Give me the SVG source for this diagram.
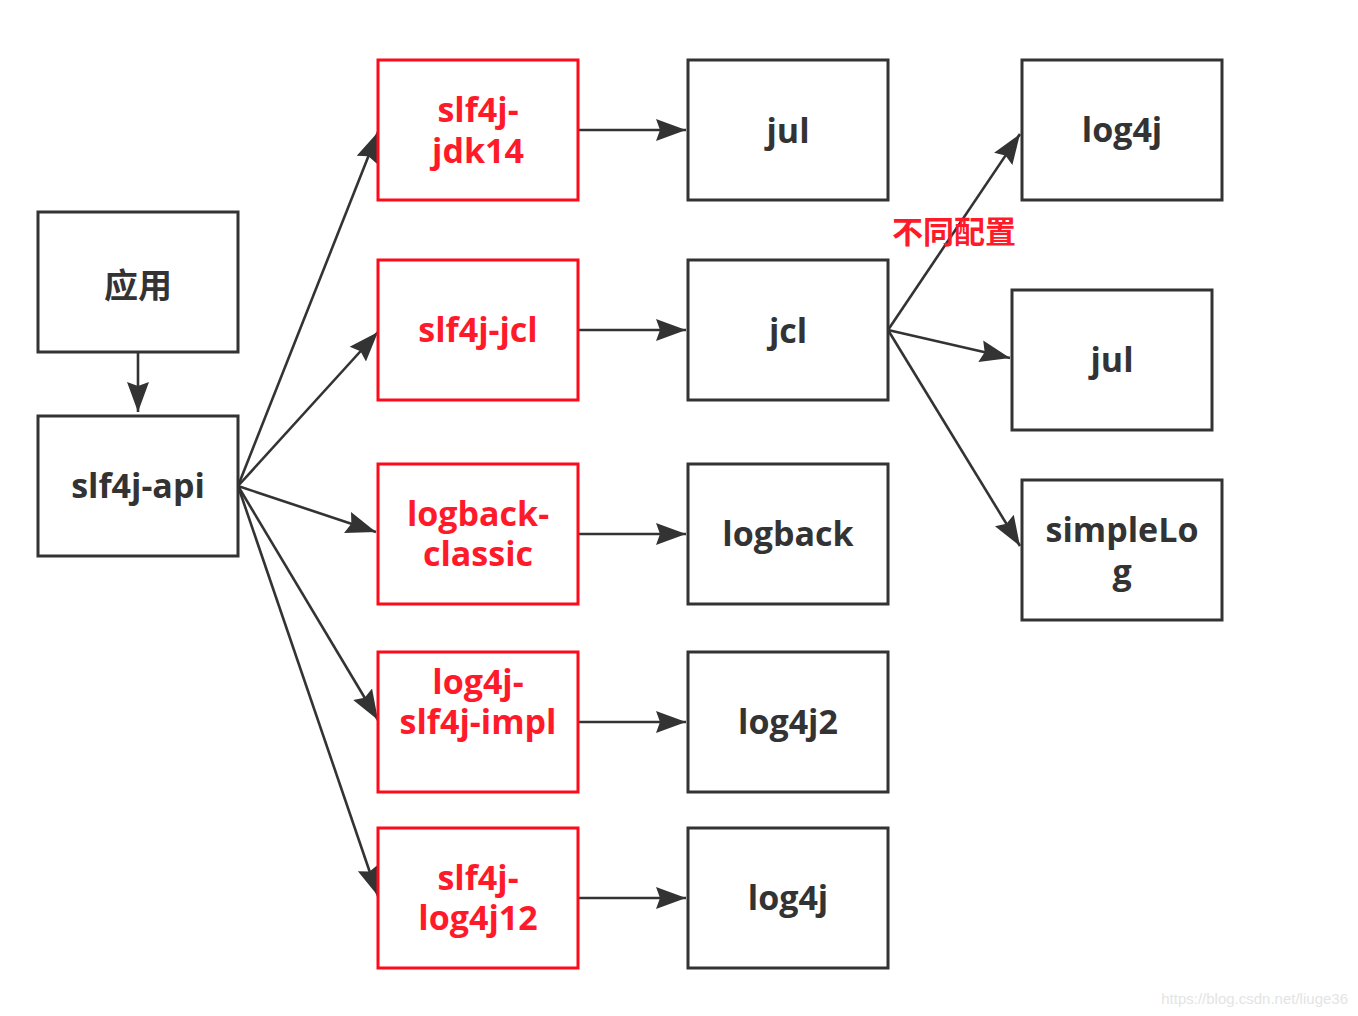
<svg xmlns="http://www.w3.org/2000/svg" width="1358" height="1016" viewBox="0 0 1358 1016">
<style>
.box{fill:#fff;stroke:#333;stroke-width:3}
.red{fill:#fff;stroke:#ff0a1a;stroke-width:3}
.t{font-family:"Open Sans","Noto Sans CJK SC",sans-serif;font-weight:bold;font-size:34px;fill:#333;text-anchor:middle}
.tr{fill:#ff1a2a}
.c{stroke:#333;stroke-width:2.6;fill:none}
</style>
<defs>
<marker id="ah" markerUnits="userSpaceOnUse" markerWidth="32" markerHeight="24" refX="30" refY="12" orient="auto">
<path d="M0,1 L30,12 L0,23 L4,12 Z" fill="#333"/>
</marker>
</defs>
<rect width="1358" height="1016" fill="#fff"/>
<g id="connectors">
<line class="c" x1="138" y1="352" x2="138" y2="412" marker-end="url(#ah)"/>
<line class="c" x1="238" y1="486" x2="378" y2="132" marker-end="url(#ah)"/>
<line class="c" x1="238" y1="486" x2="378" y2="332" marker-end="url(#ah)"/>
<line class="c" x1="238" y1="486" x2="376" y2="532" marker-end="url(#ah)"/>
<line class="c" x1="238" y1="486" x2="378" y2="720" marker-end="url(#ah)"/>
<line class="c" x1="238" y1="486" x2="378" y2="896" marker-end="url(#ah)"/>
<line class="c" x1="578" y1="130" x2="686" y2="130" marker-end="url(#ah)"/>
<line class="c" x1="578" y1="330" x2="686" y2="330" marker-end="url(#ah)"/>
<line class="c" x1="578" y1="534" x2="686" y2="534" marker-end="url(#ah)"/>
<line class="c" x1="578" y1="722" x2="686" y2="722" marker-end="url(#ah)"/>
<line class="c" x1="578" y1="898" x2="686" y2="898" marker-end="url(#ah)"/>
<line class="c" x1="888" y1="330" x2="1020" y2="134" marker-end="url(#ah)"/>
<line class="c" x1="888" y1="330" x2="1010" y2="358" marker-end="url(#ah)"/>
<line class="c" x1="888" y1="330" x2="1020" y2="546" marker-end="url(#ah)"/>
<text x="954" y="243" font-family="'Noto Sans CJK SC',sans-serif" font-weight="bold" font-size="31" fill="#ff1a2a" text-anchor="middle">不同配置</text>
</g>
<g id="app"><rect class="box" x="38" y="212" width="200" height="140"/><text class="t" x="138" y="298" font-family="'Noto Sans CJK SC',sans-serif">应用</text></g>
<g id="slf4j-api"><rect class="box" x="38" y="416" width="200" height="140"/><text class="t" x="138" y="498">slf4j-api</text></g>
<g id="slf4j-jdk14"><rect class="red" x="378" y="60" width="200" height="140"/><text class="t tr" x="478" y="122">slf4j-<tspan x="478" dy="41">jdk14</tspan></text></g>
<g id="slf4j-jcl"><rect class="red" x="378" y="260" width="200" height="140"/><text class="t tr" x="478" y="342">slf4j-jcl</text></g>
<g id="logback-classic"><rect class="red" x="378" y="464" width="200" height="140"/><text class="t tr" x="478" y="526">logback-<tspan x="478" dy="40">classic</tspan></text></g>
<g id="log4j-slf4j-impl"><rect class="red" x="378" y="652" width="200" height="140"/><text class="t tr" x="478" y="694">log4j-<tspan x="478" dy="40">slf4j-impl</tspan></text></g>
<g id="slf4j-log4j12"><rect class="red" x="378" y="828" width="200" height="140"/><text class="t tr" x="478" y="890">slf4j-<tspan x="478" dy="40">log4j12</tspan></text></g>
<g id="jul1"><rect class="box" x="688" y="60" width="200" height="140"/><text class="t" x="788" y="143">jul</text></g>
<g id="jcl"><rect class="box" x="688" y="260" width="200" height="140"/><text class="t" x="788" y="343">jcl</text></g>
<g id="logback"><rect class="box" x="688" y="464" width="200" height="140"/><text class="t" x="788" y="546">logback</text></g>
<g id="log4j2"><rect class="box" x="688" y="652" width="200" height="140"/><text class="t" x="788" y="734">log4j2</text></g>
<g id="log4j-bottom"><rect class="box" x="688" y="828" width="200" height="140"/><text class="t" x="788" y="910">log4j</text></g>
<g id="log4j-right"><rect class="box" x="1022" y="60" width="200" height="140"/><text class="t" x="1122" y="142">log4j</text></g>
<g id="jul2"><rect class="box" x="1012" y="290" width="200" height="140"/><text class="t" x="1112" y="372">jul</text></g>
<g id="simpleLog"><rect class="box" x="1022" y="480" width="200" height="140"/><text class="t" x="1122" y="542">simpleLo<tspan x="1122" dy="42">g</tspan></text></g>
<text x="1348" y="1004" font-family="'Liberation Sans',sans-serif" font-size="15" fill="#e4e4e4" text-anchor="end">https://blog.csdn.net/liuge36</text>
</svg>
